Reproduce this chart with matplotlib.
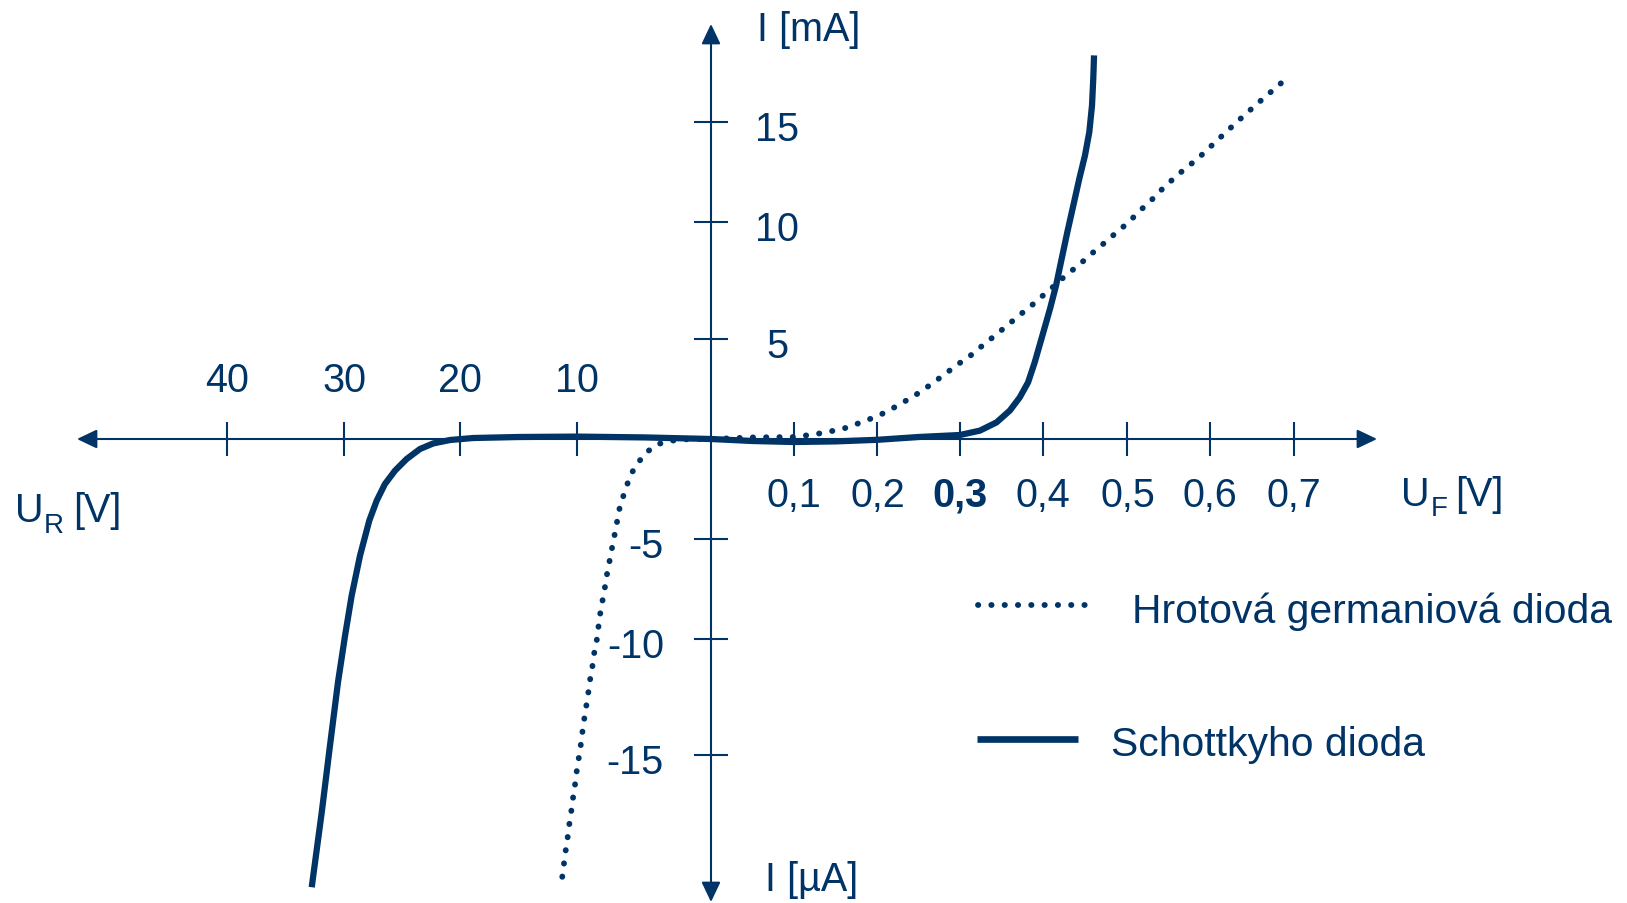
import numpy as np
import matplotlib
matplotlib.use('Agg')
import matplotlib.pyplot as plt
from matplotlib.lines import Line2D

plt.rcParams['font.family'] = ['Liberation Sans', 'DejaVu Sans']

# ---------------- data ----------------
# Voltage axis: negative values = reverse voltage U_R [V], positive = forward voltage U_F [V]
# Current axis: positive values = I [mA], negative values = I [µA]

# Schottky diode
schottky_rev_u = [-32.76, -31.9, -31.2, -30.51, -29.91, -29.34, -28.62, -27.82, -27.18,
                  -26.47, -25.6, -24.6, -23.45, -22.3, -20.86, -18.86, -15, -10, -5]
schottky_rev_i = [-20.7, -17.46, -14.6, -11.85, -9.835, -7.835, -5.835, -4.08, -3.08,
                  -2.25, -1.58, -1.0, -0.5, -0.22, -0.05, 0.05, 0.1, 0.12, 0.08]
schottky_fwd_u = [0, 0.05, 0.1, 0.15, 0.2, 0.25, 0.3, 0.324, 0.344, 0.36, 0.372, 0.382,
                  0.39, 0.4004, 0.4083, 0.4154, 0.4221, 0.4288, 0.4359, 0.443, 0.4497,
                  0.4548, 0.458, 0.4595, 0.4604]
schottky_fwd_i = [0, -0.1, -0.15, -0.12, -0.04, 0.1, 0.2, 0.42, 0.83, 1.42, 2.08, 2.83,
                  3.83, 5.29, 6.29, 7.28, 8.43, 9.57, 10.83, 12.17, 13.33,
                  14.5, 15.83, 17.17, 18.33]

# Point-contact germanium diode
ge_rev_u = [-11.26, -11.11, -10.97, -10.8, -10.66, -10.49, -10.34, -10.17, -10.03, -9.87,
            -9.72, -9.6, -9.46, -9.31, -9.16, -9.03, -8.86, -8.73, -8.53, -8.41, -8.28,
            -8.11, -7.93, -7.78, -7.59, -7.41, -7.22, -7.04, -6.87, -6.59, -6.29, -5.92,
            -5.43, -4.75, -3.93, -2.93, -2.0, -1.0]
ge_rev_i = [-20.25, -19.67, -19.13, -18.55, -18.0, -17.43, -16.85, -16.28, -15.72, -15.14,
            -14.57, -14.03, -13.45, -12.9, -12.33, -11.77, -11.22, -10.65, -10.07, -9.45, -8.78,
            -8.13, -7.47, -6.83, -6.17, -5.53, -4.88, -4.25, -3.58, -2.95, -2.33, -1.7,
            -1.17, -0.63, -0.25, -0.085, -0.02, 0.0]
ge_fwd_u = [0, 0.05, 0.1, 0.111, 0.127, 0.142, 0.158, 0.173, 0.188, 0.203, 0.217, 0.231,
            0.245, 0.258, 0.271, 0.283, 0.296, 0.310, 0.322, 0.334, 0.347, 0.359, 0.372,
            0.384, 0.396, 0.408, 0.420, 0.432, 0.444, 0.456, 0.468, 0.480, 0.492, 0.504,
            0.515, 0.527, 0.537, 0.56, 0.586, 0.609, 0.632, 0.655, 0.679, 0.691]
ge_fwd_i = [0, 0.08, 0.1, 0.16, 0.25, 0.37, 0.5, 0.72, 0.95, 1.2, 1.5, 1.83,
            2.17, 2.53, 2.92, 3.28, 3.7, 4.08, 4.5, 4.9, 5.29, 5.64, 6.03,
            6.36, 6.74, 7.1, 7.5, 7.86, 8.21, 8.6, 8.96, 9.34, 9.7, 10.1,
            10.57, 11.0, 11.45, 12.33, 13.2, 14.1, 15.0, 15.87, 16.74, 17.17]

reverse_ticks = [-40, -30, -20, -10]
reverse_tick_labels = ['40', '30', '20', '10']
forward_ticks = [0.1, 0.2, 0.3, 0.4, 0.5, 0.6, 0.7]
forward_tick_labels = ['0,1', '0,2', '0,3', '0,4', '0,5', '0,6', '0,7']
pos_i_ticks = [5, 10, 15]
pos_i_labels = ['5', '10', '15']
neg_i_ticks = [-5, -10, -15]
neg_i_labels = ['-5', '-10', '-15']
legend_labels = ['Hrotová germaniová dioda', 'Schottkyho dioda']

# ---------------- layout (piecewise axis scales, pixels) ----------------
W, H = 1627, 904
C = '#003366'
X_ANCHOR_V = [-80, -40, -30, -20, -10, 0, 0.1, 0.2, 0.3, 0.4, 0.5, 0.6, 0.7, 1.5]
X_ANCHOR_PX = [-241, 227, 344, 460, 577, 711, 794, 877.5, 960, 1043, 1127.5, 1210, 1294, 1966]
Y_ANCHOR_V = [-40, -15, -10, -5, 0, 5, 10, 15, 40]
Y_ANCHOR_UP = [H - p for p in [1336, 756, 640, 540, 440, 340, 223, 123, -377]]


def fx(v):
    return np.interp(v, X_ANCHOR_V, X_ANCHOR_PX)


def fxi(p):
    return np.interp(p, X_ANCHOR_PX, X_ANCHOR_V)


def fy(v):
    return np.interp(v, Y_ANCHOR_V, Y_ANCHOR_UP)


def fyi(u):
    return np.interp(u, Y_ANCHOR_UP, Y_ANCHOR_V)


fig = plt.figure(figsize=(W / 100, H / 100), dpi=100, facecolor='white')
ax = fig.add_axes([0, 0, 1, 1])
ax.set_xscale('function', functions=(fx, fxi))
ax.set_yscale('function', functions=(fy, fyi))
ax.set_xlim(fxi(0), fxi(W))
ax.set_ylim(fyi(0), fyi(H))
ax.patch.set_visible(False)

for s in ['top', 'right']:
    ax.spines[s].set_visible(False)
ax.spines['left'].set_position(('data', 0))
ax.spines['bottom'].set_position(('data', 0))
ax.spines['left'].set_color('none')
ax.spines['bottom'].set_color('none')
ax.set_xticks(reverse_ticks + forward_ticks)
ax.set_yticks(neg_i_ticks + pos_i_ticks)
ax.minorticks_off()
ax.tick_params(direction='inout', length=24.5, width=1.5, color=C,
               labelbottom=False, labelleft=False)

# axis arrows
arrow_kw = dict(arrowstyle='<|-|>,head_length=0.42,head_width=0.2', mutation_scale=29,
                lw=1.5, color=C, shrinkA=0, shrinkB=0)
ax.annotate('', xy=(fxi(1377), 0), xytext=(fxi(77), 0), arrowprops=arrow_kw, zorder=1)
ax.annotate('', xy=(0, fyi(H - 25)), xytext=(0, fyi(H - 903)), arrowprops=arrow_kw, zorder=1)

# curves
DOT = dict(lw=4.2, linestyle=(0, (0.05, 2.23)), dash_capstyle='round')
ax.plot(ge_rev_u + ge_fwd_u, ge_rev_i + ge_fwd_i, color=C, zorder=3, **DOT)
ax.plot(schottky_rev_u + schottky_fwd_u, schottky_rev_i + schottky_fwd_i, color=C, lw=4.5,
        solid_capstyle='butt', solid_joinstyle='round', zorder=4)


def ftext(px, py, s, **kw):
    kw.setdefault('color', C)
    kw.setdefault('fontsize', 28.5)
    kw.setdefault('va', 'baseline')
    fig.text(px / W, 1 - py / H, s, **kw)


# tick labels
for t, lab in zip(reverse_ticks, reverse_tick_labels):
    ftext(float(fx(t)), 391.5, lab, ha='center')
for t, lab in zip(forward_ticks, forward_tick_labels):
    ftext(float(fx(t)), 507, lab, ha='center',
          fontweight='bold' if lab == '0,3' else 'normal')
for t, lab in zip(pos_i_ticks, pos_i_labels):
    ftext(777, H - float(fy(t)) + 18, lab, ha='center')
for t, lab in zip(neg_i_ticks, neg_i_labels):
    ftext(664, H - float(fy(t)) + 18.5, lab, ha='right')

# axis titles
ftext(757, 41, 'I [mA]', ha='left')
ftext(765, 891.5, 'I [µA]', ha='left')
ftext(15, 522.5, 'U', ha='left')
ftext(44, 533, 'R', ha='left', fontsize=20)
ftext(73, 522.5, '[V]', ha='left')
ftext(1401, 506.5, 'U', ha='left')
ftext(1431, 516.5, 'F', ha='left', fontsize=20)
ftext(1455, 506.5, '[V]', ha='left')

# legend
fig.add_artist(Line2D([978 / W, 1086 / W], [1 - 606 / H, 1 - 606 / H], transform=fig.transFigure,
                      color=C, **DOT))
fig.add_artist(Line2D([977 / W, 1078 / W], [1 - 740 / H, 1 - 740 / H], transform=fig.transFigure,
                      color=C, lw=4.8, solid_capstyle='butt'))
ftext(1132, 623, legend_labels[0], ha='left', fontsize=29.4)
ftext(1111, 756.5, legend_labels[1], ha='left', fontsize=29.4)

fig.savefig('out.png', dpi=100, facecolor='white')
